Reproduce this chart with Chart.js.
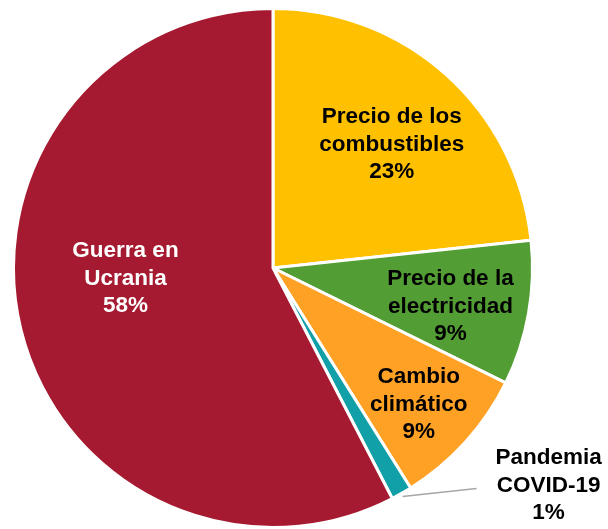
<!DOCTYPE html>
<html>
<head>
<meta charset="utf-8">
<script src="https://cdn.jsdelivr.net/npm/chart.js@4/dist/chart.umd.min.js"></script>
<style>
  html, body { margin: 0; padding: 0; background: #fff; }
  #wrap { width: 608px; height: 529px; }
</style>
</head>
<body>
<div id="wrap"><canvas id="myChart" width="608" height="529"></canvas></div>
<script>
// datos del gráfico
const categorias = [
  ['Precio de los', 'combustibles'],
  ['Precio de la', 'electricidad'],
  ['Cambio', 'climático'],
  ['Pandemia', 'COVID-19'],
  ['Guerra en', 'Ucrania']
]
const valores = [23.3, 9.0, 8.8, 1.3, 57.6]
const etiquetasPct = ['23%', '9%', '9%', '1%', '58%']
const colores = ['#FFC000', '#529E34', '#FFA124', '#12A0A8', '#A51A30']
const coloresTexto = ['#000', '#000', '#000', '#000', '#fff']

// donde va cada texto: [fraccion del radio, giro en grados]
const posTexto = [[0.66, 2], [0.70, 2.2], [0.77, 1], [null, 0], [0.57, 9.5]]

const etiquetasPlugin = {
  id: 'etiquetas',
  afterDatasetsDraw(chart) {
    const ctx = chart.ctx
    const arcs = chart.getDatasetMeta(0).data
    ctx.save()
    ctx.font = 'bold 22.5px "Liberation Sans", Arial, sans-serif'
    ctx.textAlign = 'center'
    ctx.textBaseline = 'middle'
    const lh = 27.5
    arcs.forEach((arc, i) => {
      const lineas = categorias[i].concat([etiquetasPct[i]])
      const mid = (arc.startAngle + arc.endAngle) / 2
      let x, y
      if (posTexto[i][0] === null) {
        // etiqueta fuera con linea guia
        const ex = arc.x + Math.cos(mid) * arc.outerRadius
        const ey = arc.y + Math.sin(mid) * arc.outerRadius
        ctx.strokeStyle = '#A6A6A6'
        ctx.lineWidth = 1.5
        ctx.beginPath()
        ctx.moveTo(ex + 1, ey + 3)
        ctx.lineTo(ex + 75, ey - 5)
        ctx.stroke()
        x = ex + 147
        y = ey - 8
      } else {
        const a = mid + posTexto[i][1] * Math.PI / 180
        const r = arc.outerRadius * posTexto[i][0]
        x = arc.x + Math.cos(a) * r
        y = arc.y + Math.sin(a) * r
      }
      ctx.fillStyle = coloresTexto[i]
      lineas.forEach((t, k) => {
        ctx.fillText(t, x, y + (k - 1) * lh)
      })
    })
    ctx.restore()
  }
}

const ctx = document.getElementById('myChart').getContext('2d')
const myChart = new Chart(ctx, {
  type: 'pie',
  data: {
    labels: categorias.map(c => c.join(' ')),
    datasets: [{
      data: valores,
      backgroundColor: colores,
      borderColor: '#fff',
      borderWidth: 3
    }]
  },
  options: {
    responsive: false,
    animation: false,
    layout: { padding: { left: 11, right: 73, top: 7, bottom: -2 } },
    plugins: {
      legend: { display: false },
      tooltip: { enabled: false }
    }
  },
  plugins: [etiquetasPlugin]
})
</script>
</body>
</html>
